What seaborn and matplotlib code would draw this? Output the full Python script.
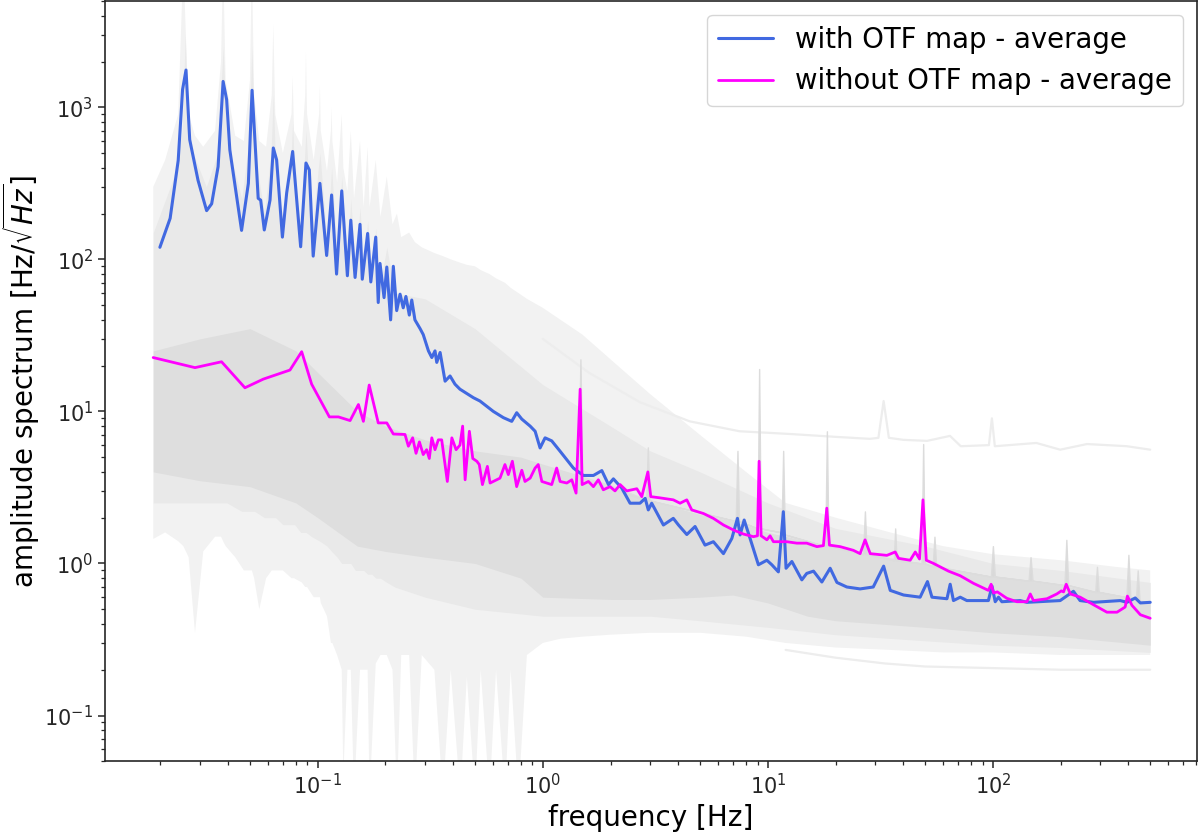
import matplotlib
matplotlib.use("Agg")
import matplotlib.pyplot as plt
import seaborn as sns

# ---------------- average spectra ----------------
blue_freq = [0.0199, 0.0221, 0.0240, 0.0251, 0.0260, 0.0270, 0.0294, 0.0321, 0.0338, 0.0361,
             0.0380, 0.0394, 0.0407, 0.0459, 0.0492, 0.0511, 0.0521, 0.0544, 0.0558, 0.0579,
             0.0614, 0.0635, 0.0657, 0.0697, 0.0728, 0.0774, 0.0840, 0.0887, 0.0918, 0.0955,
             0.1023, 0.1096, 0.1153, 0.1213, 0.1279, 0.1355, 0.1403, 0.1466, 0.1542, 0.1578,
             0.1667, 0.1722, 0.1811, 0.1858, 0.1892, 0.1972, 0.2028, 0.2109, 0.2168, 0.2244,
             0.2323, 0.2399, 0.2466, 0.2553, 0.2618, 0.2704, 0.2851, 0.2944, 0.3105, 0.3214,
             0.3321, 0.3381, 0.3499, 0.3681, 0.3873, 0.4074, 0.4286, 0.492, 0.526, 0.603,
             0.668, 0.728, 0.766, 0.807, 0.879, 0.925, 0.973, 1.024, 1.096, 1.194,
             1.368, 1.515, 1.679, 1.83, 1.959, 2.06, 2.244, 2.443, 2.704, 2.851,
             2.944, 3.048, 3.436, 3.802, 4.009, 4.365, 4.75, 5.26, 5.73, 6.35,
             6.92, 7.33, 7.53, 7.85, 8.34, 9.08, 9.9, 10.42, 11.14, 11.72,
             12.05, 12.79, 14.16, 14.89, 15.96, 17.38, 18.92, 20.28, 22.44, 25.7,
             29.4, 32.7, 34.99, 40.1, 47.5, 51.2, 53.6, 62.5, 64.6, 66.8,
             71.6, 76.6, 95.5, 99.1, 102.4, 105.9, 109.6, 132.2, 141.6, 199,
             228, 244, 280, 368, 394, 429, 452, 500]
blue_amp = [120, 186, 447, 1309, 1758, 612, 331, 209, 232, 407,
            1479, 1122, 525, 155, 316, 1294, 793, 252, 245, 156,
            245, 540, 451, 140, 273, 512, 121, 430, 387, 105,
            316, 106, 265, 80, 282, 78, 181, 76, 170, 74,
            148, 71, 140, 52, 94, 56, 89, 40, 90, 46,
            59, 48, 57, 43, 54, 40, 35, 32, 25, 22.6,
            25, 21, 24.4, 15.8, 17.1, 15.1, 14, 12.3, 11.7, 10,
            9.1, 8.6, 9.8, 8.9, 8.0, 7.4, 5.75, 6.7, 6.4, 5.47,
            4.24, 3.79, 3.79, 4.08, 3.3, 3.6, 3.13, 2.49, 2.49, 2.68,
            2.25, 2.49, 1.79, 1.98, 1.79, 1.55, 1.75, 1.32, 1.39, 1.16,
            1.46, 1.98, 1.54, 1.93, 1.46, 0.98, 1.05, 0.98, 0.88, 2.19,
            0.93, 1.03, 0.78, 0.86, 0.89, 0.755, 0.93, 0.75, 0.70, 0.68,
            0.70, 0.96, 0.665, 0.62, 0.60, 0.76, 0.60, 0.586, 0.73, 0.57,
            0.60, 0.57, 0.57, 0.71, 0.56, 0.60, 0.56, 0.57, 0.555, 0.57,
            0.656, 0.57, 0.555, 0.57, 0.555, 0.593, 0.55, 0.555]

mag_freq = [0.01858, 0.0285, 0.0374, 0.0475, 0.0573, 0.0753, 0.0849, 0.094, 0.1127, 0.1236,
            0.1393, 0.1517, 0.1596, 0.1694, 0.1858, 0.2028, 0.2168, 0.2443, 0.2529, 0.2642,
            0.2735, 0.2831, 0.2944, 0.3048, 0.3133, 0.3214, 0.3321, 0.3436, 0.3556, 0.3767,
            0.3945, 0.412, 0.4286, 0.4406, 0.4519, 0.472, 0.4887, 0.5093, 0.5224, 0.5395,
            0.5675, 0.5834, 0.6457, 0.6792, 0.7031, 0.7328, 0.7656, 0.8072, 0.8337, 0.879,
            0.9246, 0.955, 0.9908, 1.096, 1.153, 1.194, 1.279, 1.346, 1.406, 1.466,
            1.496, 1.596, 1.679, 1.766, 1.858, 1.991, 2.094, 2.207, 2.361, 2.618,
            2.754, 2.931, 3.02, 3.319, 3.802, 4.074, 4.365, 4.592, 5.176, 5.728,
            6.353, 7.031, 7.798, 8.63, 8.995, 9.146, 9.338, 9.908, 10.23, 10.59,
            12.13, 13.45, 14.89, 16.52, 17.66, 18.28, 18.79, 20.94, 23.99, 25.7,
            27.04, 28.51, 33.8, 36.81, 38.11, 42.9, 45.2, 47.2, 48.9, 50.6,
            54.5, 63.5, 71.6, 82.0, 95.5, 98.2, 100.7, 104.7, 115.3, 127.9,
            141.6, 146.6, 151.4, 173.8, 192.3, 201.4, 206.1, 211.8, 220.8, 244.3,
            280, 321, 356, 387, 396, 415, 452, 500]
mag_amp = [22.6, 19.4, 21.2, 14.3, 16.3, 18.7, 24.7, 15.1, 9.2, 9.2,
           8.7, 11.1, 8.6, 14.9, 8.4, 8.4, 7.1, 7.05, 5.9, 6.7,
           5.3, 6.3, 5.2, 5.6, 4.9, 6.7, 5.6, 6.5, 6.5, 3.46,
           6.7, 5.6, 6.0, 8.0, 3.55, 7.4, 4.9, 4.7, 4.47, 3.3,
           4.35, 3.38, 3.64, 4.47, 3.84, 4.7, 3.2, 4.1, 3.46, 3.64,
           4.24, 4.47, 3.46, 3.3, 4.24, 3.46, 3.38, 3.55, 2.9, 14.0,
           3.3, 3.46, 3.2, 3.55, 3.05, 3.2, 3.0, 3.3, 3.0, 3.1,
           2.75, 4.0, 2.75, 2.7, 2.62, 2.49, 2.62, 2.25, 2.13, 1.98,
           1.79, 1.66, 1.56, 1.5, 1.52, 4.7, 1.52, 1.43, 1.52, 1.39,
           1.39, 1.36, 1.36, 1.29, 1.31, 2.31, 1.32, 1.29, 1.22, 1.16,
           1.43, 1.16, 1.13, 1.19, 1.08, 1.05, 1.19, 1.07, 2.62, 1.05,
           1.0, 0.89, 0.83, 0.74, 0.665, 0.73, 0.64, 0.65, 0.59, 0.56,
           0.56, 0.63, 0.57, 0.586, 0.63, 0.66, 0.65, 0.73, 0.63, 0.60,
           0.535, 0.478, 0.478, 0.517, 0.61, 0.53, 0.46, 0.436]

# ---------------- grey cloud of individual spectra (envelopes) ----------------
outer_freq = [0.0186, 0.0210, 0.0240, 0.0253, 0.0267, 0.0285, 0.0310, 0.0350, 0.0372, 0.0380,
              0.0390, 0.0430, 0.0470, 0.0500, 0.0510, 0.0522, 0.0550, 0.0590, 0.0625, 0.0635,
              0.0648, 0.0700, 0.0765, 0.0774, 0.0785, 0.0850, 0.0880, 0.0887, 0.0897, 0.0960,
              0.1015, 0.1023, 0.1032, 0.1100, 0.1145, 0.1153, 0.1162, 0.1220, 0.1279, 0.1300,
              0.1355, 0.1403, 0.1450, 0.1542, 0.1600, 0.1667, 0.1700, 0.1811, 0.1900, 0.2028,
              0.2150, 0.2250, 0.2350, 0.2550, 0.2700, 0.2900, 0.3300, 0.3600, 0.3900, 0.4300,
              0.4600, 0.5000, 0.5300, 0.5800, 0.6200, 0.6800, 0.7200, 0.7800, 0.8500, 1.0,
              1.2, 1.5, 2.0, 3.0, 5.0, 8.0, 12, 20, 35, 60,
              100, 200, 350, 500]
outer_lo = [1.45, 1.6, 1.4, 1.3, 1.1, 0.35, 1.2, 1.5, 1.5, 1.4,
            1.3, 1.1, 0.9, 0.9, 0.9, 0.8, 0.5, 0.8, 0.9, 0.9,
            0.9, 0.9, 0.8, 0.8, 0.8, 0.75, 0.7, 0.7, 0.7, 0.6,
            0.6, 0.6, 0.55, 0.45, 0.3, 0.3, 0.3, 0.25, 0.2, 0.04,
            0.2, 0.2, 0.03, 0.2, 0.2, 0.2, 0.03, 0.22, 0.25, 0.25,
            0.2, 0.03, 0.25, 0.25, 0.03, 0.25, 0.2, 0.03, 0.2, 0.03,
            0.18, 0.03, 0.2, 0.03, 0.2, 0.03, 0.2, 0.03, 0.25, 0.3,
            0.32, 0.33, 0.34, 0.35, 0.35, 0.33, 0.3, 0.28, 0.27, 0.26,
            0.26, 0.25, 0.25, 0.25]
outer_hi = [300, 450, 900, 9000, 900, 650, 550, 700, 2000, 9000,
            1500, 650, 600, 1500, 9000, 1200, 600, 550, 1200, 3500,
            900, 500, 900, 1600, 700, 550, 1200, 2300, 900, 450,
            900, 1400, 700, 380, 700, 1000, 600, 320, 900, 400,
            280, 700, 250, 600, 220, 550, 220, 450, 190, 350,
            170, 200, 140, 150, 130, 120, 110, 105, 100, 95,
            92, 90, 85, 80, 75, 70, 65, 60, 55, 48,
            40, 32, 22, 13, 7, 4, 2.5, 2.0, 1.6, 1.3,
            1.15, 1.05, 0.95, 0.9]

mid_freq = [0.0186, 0.0230, 0.0250, 0.0258, 0.0266, 0.0320, 0.0360, 0.0380, 0.0395, 0.0460,
            0.0495, 0.0510, 0.0525, 0.0580, 0.0620, 0.0635, 0.0650, 0.0700, 0.0760, 0.0774,
            0.0790, 0.0840, 0.0887, 0.0940, 0.1023, 0.1100, 0.1153, 0.1220, 0.1279, 0.1355,
            0.1403, 0.1470, 0.1542, 0.1600, 0.1667, 0.1740, 0.1811, 0.1900, 0.2028, 0.2200,
            0.3000, 0.5000, 1.0, 2.0, 3.0, 5.0, 10, 20, 50, 100,
            200, 500]
mid_lo = [2.5, 2.5, 2.5, 2.5, 2.5, 2.5, 2.5, 2.5, 2.5, 2.2,
          2.2, 2.2, 2.2, 2.0, 2.0, 2.0, 2.0, 1.8, 1.8, 1.8,
          1.8, 1.6, 1.6, 1.5, 1.4, 1.3, 1.2, 1.1, 1.0, 1.0,
          1.0, 0.9, 0.9, 0.9, 0.85, 0.85, 0.8, 0.8, 0.75, 0.7,
          0.6, 0.5, 0.45, 0.45, 0.45, 0.42, 0.38, 0.34, 0.31, 0.29,
          0.28, 0.26]
mid_hi = [150, 350, 700, 3000, 600, 300, 500, 2500, 600, 250,
          600, 2500, 500, 200, 500, 1200, 400, 180, 450, 800,
          350, 160, 700, 150, 500, 130, 400, 110, 350, 100,
          250, 90, 220, 85, 180, 80, 160, 70, 120, 60,
          55, 35, 15, 8, 5.5, 4, 2.5, 1.7, 1.3, 1.0,
          0.9, 0.75]

core_freq = [0.0186, 0.03, 0.05, 0.08, 0.1, 0.15, 0.2, 0.3, 0.5, 0.8,
             1.0, 2.0, 3.0, 5.0, 7.0, 10, 15, 20, 50, 100,
             200, 500]
core_lo = [4, 3.5, 3.2, 2.5, 2.0, 1.3, 1.2, 1.1, 1.0, 0.8,
           0.6, 0.58, 0.58, 0.6, 0.62, 0.55, 0.45, 0.42, 0.38, 0.35,
           0.33, 0.29]
core_hi = [25, 30, 35, 25, 18, 10, 8, 6.5, 5.5, 5.0,
           4.5, 3.3, 2.6, 2.1, 1.9, 1.6, 1.4, 1.25, 1.0, 0.82,
           0.72, 0.56]

# narrow line-frequency peaks shared by many individual spectra
spike_freq = [1.44, 1.47, 1.50, 2.88, 2.93, 2.98, 7.20, 7.33, 7.45, 9.00,
              9.15, 9.30, 11.5, 11.7, 11.9, 18.0, 18.3, 18.6, 26.5, 27.0,
              27.5, 36.3, 36.8, 37.3, 48.2, 49.0, 49.8, 54.0, 55.0, 56.0,
              98, 100, 102, 144, 147, 150, 208, 212, 216, 285,
              290, 295, 392, 400, 408, 432, 440, 448]
spike_base = [3.6, 3.6, 3.6, 2.6, 2.6, 2.6, 1.9, 1.9, 1.9, 1.7,
              1.7, 1.7, 1.6, 1.6, 1.55, 1.3, 1.3, 1.3, 1.15, 1.15,
              1.15, 1.05, 1.05, 1.05, 1.0, 1.0, 1.0, 0.95, 0.95, 0.95,
              0.82, 0.82, 0.82, 0.77, 0.77, 0.77, 0.72, 0.72, 0.72, 0.65,
              0.65, 0.65, 0.6, 0.6, 0.6, 0.58, 0.58, 0.58]
spike_top = [3.6, 22, 3.6, 2.6, 5.8, 2.6, 1.9, 5.5, 1.9, 1.7,
             19, 1.7, 1.6, 5.5, 1.55, 1.3, 7.4, 1.3, 1.15, 2.2,
             1.15, 1.05, 1.7, 1.05, 1.0, 6.1, 1.0, 0.95, 1.5, 0.95,
             0.82, 1.3, 0.82, 0.77, 1.1, 0.77, 0.72, 1.43, 0.72, 0.65,
             0.95, 0.65, 0.6, 1.14, 0.6, 0.58, 0.9, 0.58]

# outlying individual spectra
high_freq = [1.0, 1.6, 2.7, 4.5, 7.5, 12.6, 20, 28.4, 31, 32.7,
             34.5, 40, 51, 64.5, 72, 96, 99, 102, 156, 199,
             262, 394, 500]
high_amp = [30, 18, 11.5, 8.6, 7.4, 7.1, 6.8, 6.6, 6.7, 11.7,
            6.7, 6.5, 6.4, 6.9, 5.9, 6.0, 9.0, 5.9, 6.2, 5.6,
            6.1, 5.9, 5.6]
low_freq = [12, 20, 33, 50, 100, 200, 300, 500]
low_amp = [0.27, 0.24, 0.22, 0.21, 0.205, 0.2, 0.2, 0.2]

# ---------------- styling ----------------
sns.set_theme(style="ticks")
plt.rcParams['font.family'] = ['DejaVu Sans']
plt.rcParams.update({
    "axes.edgecolor": "0.15",
    "axes.linewidth": 1.2,
    "xtick.major.size": 5, "ytick.major.size": 5,
    "xtick.minor.size": 3, "ytick.minor.size": 3,
    "xtick.major.width": 1.1, "ytick.major.width": 1.1,
    "xtick.minor.width": 0.9, "ytick.minor.width": 0.9,
    "xtick.labelsize": 15, "ytick.labelsize": 15,
    "xtick.color": "0.15", "ytick.color": "0.15",
    "text.color": "black", "axes.labelcolor": "black",
})

fig = plt.figure(figsize=(12, 8.32), dpi=100)
ax = fig.add_axes([0.0875, 0.085, 0.91, 0.9138])
ax.set_xscale("log")
ax.set_yscale("log")

ax.fill_between(outer_freq, outer_lo, outer_hi, color="#f2f2f2", lw=0, zorder=1)
sns.lineplot(x=high_freq, y=high_amp, ax=ax, color="#ededed", lw=1.6, sort=False,
             estimator=None, zorder=1.2)
sns.lineplot(x=low_freq, y=low_amp, ax=ax, color="#ededed", lw=1.6, sort=False,
             estimator=None, zorder=1.2)
ax.fill_between(mid_freq, mid_lo, mid_hi, color="#e9e9e9", lw=0, zorder=1.5)
ax.fill_between(core_freq, core_lo, core_hi, color="#dedede", lw=0, zorder=2)
ax.fill_between(spike_freq, spike_base, spike_top, color="#d9d9d9", lw=1.0,
                edgecolor="#dcdcdc", zorder=2.2)

sns.lineplot(x=blue_freq, y=blue_amp, ax=ax, color="royalblue", lw=2.2, sort=False,
             estimator=None, label="with OTF map - average", zorder=5)
sns.lineplot(x=mag_freq, y=mag_amp, ax=ax, color="magenta", lw=2.0, sort=False,
             estimator=None, label="without OTF map - average", zorder=6)

ax.set_xlim(0.01135, 807)
ax.set_ylim(0.05, 5000)
ax.set_xlabel("frequency [Hz]", fontsize=20)
ax.set_ylabel(r"amplitude spectrum [Hz/$\sqrt{Hz}$]", fontsize=20)
ax.yaxis.set_label_coords(-0.058, 0.5)

leg = ax.legend(loc="upper right", fontsize=19.8, frameon=True, fancybox=True,
                framealpha=0.8, edgecolor="0.8")

fig.savefig("out.png", dpi=100)
